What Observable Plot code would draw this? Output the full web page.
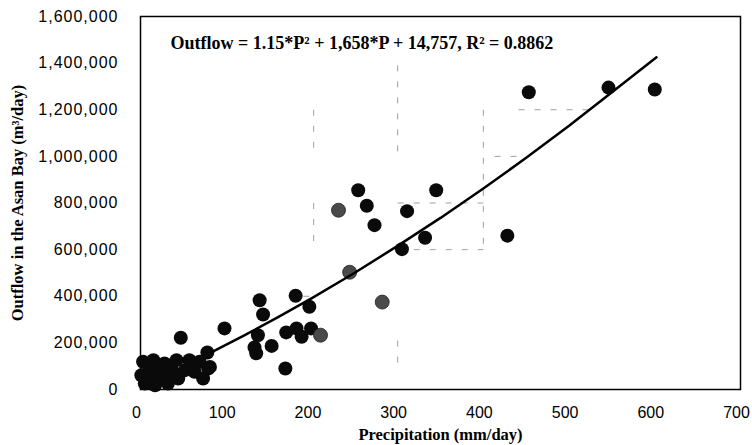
<!DOCTYPE html>
<html><head><meta charset="utf-8">
<script src="https://cdn.jsdelivr.net/npm/d3@7"></script>
<script src="https://cdn.jsdelivr.net/npm/@observablehq/plot@0.6"></script>
<style>
body{margin:0;background:#fff}
g[aria-label="y-axis tick label"] text{letter-spacing:1px}
</style></head><body><div id="chart"></div>
<script>
// Observed points: precipitation (mm/day) and outflow (m3/day)
const precipBlack = [453,546,600,428,345,311,332,305,254,264,273,197,139,143,181,137,133,135,153,170,182,188,199,169,47,98,78,81,73,79,
  3,15,28,42,57,69,1,13,26,40,52,63,5,17,32,44,10,22,36,60,8,20];
const outflowBlack = [1275000,1295000,1287000,660000,855000,765000,651000,602000,855000,788000,705000,355000,383000,322000,402000,233000,180000,155000,187000,245000,262000,226000,262000,90000,222000,262000,159000,97000,47000,90000,
  119000,126000,112000,126000,126000,119000,61000,61000,61000,69000,83000,76000,26000,18000,26000,47000,95000,45000,90000,100000,40000,85000];
const precipGray = [231,244,210,282];
const outflowGray = [769000,503000,233000,375000];

// Fitted curve as drawn
const fitP = [82,120,160,200,250,300,350,400,450,500,550,602];
const fitQ = [158000,230000,309000,392000,501000,616000,736000,862000,994000,1131000,1275000,1425000];

// faint remnant gridline fragments
const segX1 = [300,300,400,300,300,202,202,441,413,190];
const segX2 = [300,300,400,400,400,202,202,522,448,202];
const segY1 = [1390000,210000,1200000,800000,600000,800000,1200000,1200000,1000000,400000];
const segY2 = [1000000,100000,600000,800000,600000,600000,1000000,1200000,1000000,400000];

const xTicks = [0,100,200,300,400,500,600,700];
const yTicks = [0,200000,400000,600000,800000,1000000,1200000,1400000,1600000];

const pts = precipBlack.map((p,i)=>({p, q:outflowBlack[i]}));
const ptsG = precipGray.map((p,i)=>({p, q:outflowGray[i]}));
const fit = fitP.map((p,i)=>({p, q:fitQ[i]}));
const segs = segX1.map((x,i)=>({x1:x, x2:segX2[i], y1:segY1[i], y2:segY2[i]}));

const serif = "Liberation Serif, Times New Roman, serif";
const chart = Plot.plot({
  width:752, height:445,
  marginLeft:140, marginRight:12, marginTop:16, marginBottom:56,
  style:{fontFamily:"Liberation Sans, Arial, sans-serif", fontSize:"16px", background:"#fff", color:"#000"},
  x:{domain:[0,700], label:null},
  y:{domain:[0,1600000], label:null},
  marks:[
    Plot.axisX({ticks:xTicks, tickSize:0, tickPadding:17, dx:-4, label:null}),
    Plot.axisY({ticks:yTicks, tickSize:0, tickPadding:22, tickFormat:d3.format(","), label:null}),
    Plot.link(segs, {x1:"x1", x2:"x2", y1:"y1", y2:"y2", stroke:"#888", strokeWidth:0.8, strokeDasharray:"6,10"}),
    Plot.frame({stroke:"#000", strokeWidth:1.5}),
    Plot.dot(pts, {x:"p", y:"q", r:7, fill:"#0a0a0a", stroke:"none"}),
    Plot.dot(ptsG, {x:"p", y:"q", r:7, fill:"#4a4a4a", stroke:"#222", strokeWidth:0.8}),
    Plot.line(fit, {x:"p", y:"q", stroke:"#000", strokeWidth:2.5}),
    Plot.text(["Outflow = 1.15*P² + 1,658*P + 14,757, R² = 0.8862"], {frameAnchor:"top-left", dx:30, dy:20, textAnchor:"start", fontFamily:serif, fontWeight:"bold", fontSize:18, fill:"#000"}),
    Plot.text(["Precipitation (mm/day)"], {frameAnchor:"bottom", dy:50, textAnchor:"middle", fontFamily:serif, fontWeight:"bold", fontSize:16.5, fill:"#000"}),
    Plot.text(["Outflow in the Asan Bay (m³/day)"], {frameAnchor:"left", dx:-123, textAnchor:"middle", rotate:-90, fontFamily:serif, fontWeight:"bold", fontSize:16.5, fill:"#000"})
  ]
});
document.getElementById("chart").appendChild(chart);
</script></body></html>
